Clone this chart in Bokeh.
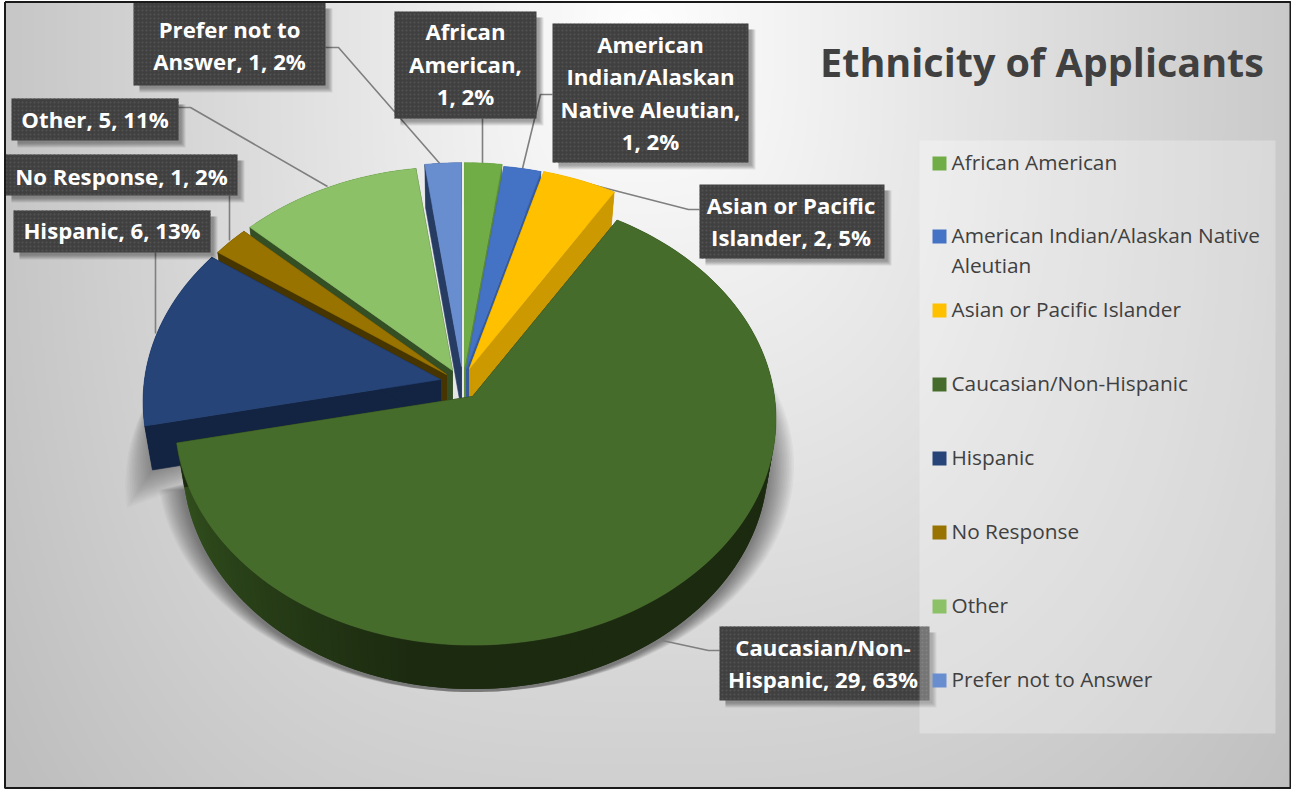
import math
import numpy as np
from bokeh.plotting import figure
from bokeh.models import Range1d
from bokeh.core.properties import value
from bokeh.embed import file_html
from bokeh.resources import INLINE

# ---- data ----
categories = ["African American", "American Indian/Alaskan Native Aleutian",
              "Asian or Pacific Islander", "Caucasian/Non-Hispanic", "Hispanic",
              "No Response", "Other", "Prefer not to Answer"]
counts = [1, 1, 2, 29, 6, 1, 5, 1]
percents = [2, 2, 5, 63, 13, 2, 11, 2]
title_text = "Ethnicity of Applicants"

# label line breaks of the data labels (name parts; count and percent are appended)
label_lines = [["African", "American,", "{c}, {p}%"],
               ["American", "Indian/Alaskan", "Native Aleutian,", "{c}, {p}%"],
               ["Asian or Pacific", "Islander, {c}, {p}%"],
               ["Caucasian/Non-", "Hispanic, {c}, {p}%"],
               ["Hispanic, {c}, {p}%"],
               ["No Response, {c}, {p}%"],
               ["Other, {c}, {p}%"],
               ["Prefer not to", "Answer, {c}, {p}%"]]
legend_lines = [["African American"], ["American Indian/Alaskan Native", "Aleutian"],
                ["Asian or Pacific Islander"], ["Caucasian/Non-Hispanic"], ["Hispanic"],
                ["No Response"], ["Other"], ["Prefer not to Answer"]]

# ---- styles ----
top_colors = ["#70AD47", "#4472C4", "#FFC000", "#466C2B", "#264478", "#997300", "#8CC168", "#698ED0"]
wall_colors = ["#5A8A39", "#365B9D", "#CC9A00", "#1C2B10", "#132442", "#463500", "#344F24", "#263C63"]

# ---- layout: 3-D pie projection ----
FR, FL, G, P = 302.0, 296.0, 224.0, 0.099
DEPTH, LEAN = 44.0, 0.026
apex = [(464, 366), (466, 368), (469, 368), (472, 396), (440, 379), (446, 374), (452, 370), (461, 366)]
draw_order = [7, 6, 5, 4, 0, 1, 2, 3]
boxes = [(394, 536, 11, 118), (552, 748, 23, 162), (699, 884, 184, 258), (719, 929, 626, 700),
         (13, 210, 210, 252), (5, 237, 154, 195), (11, 178, 98, 140), (133, 325, 2, 85)]
text_shift = [(0, 0), (0, 1), (-1, 1), (3.5, 1), (0, 0), (0, 2), (0, 1), (0, 2.5)]
leaders = [[(482, 118), (482, 164)], [(552, 94), (540, 94), (522, 168)],
           [(699, 209), (688, 209), (579, 181)], [(719, 650), (708, 650), (657, 639)],
           [(155, 252), (155, 333)], [(229, 195), (229, 240)],
           [(178, 107), (190, 107), (327, 186)], [(325, 47), (338, 47), (441, 165)]]
legend_y = [163, 236, 310, 384, 458, 532, 606, 680]

W, H = 1291, 789
p = figure(width=W, height=H, x_range=Range1d(0, W), y_range=Range1d(H, 0),
           output_backend="svg", toolbar_location=None, min_border=0, outline_line_color=None)
p.axis.visible = False
p.grid.visible = False
p.background_fill_color = "white"
p.border_fill_color = "white"

# background gradient
step = 2
xs = np.arange(4, 1291, step) + step / 2
ys = np.arange(2, 788, step) + step / 2
X, Y = np.meshgrid(xs, ys)
dx = np.where(X < 640, (640 - X) * 0.089, (X - 640) * 0.082)
drop = (dx ** 3 + (np.abs(Y - 40) * 0.0635) ** 3) ** (1 / 3)
g = np.clip(255 - drop, 190, 255).astype(np.uint32)
img = (255 << 24) | (g << 16) | (g << 8) | g
p.image_rgba(image=[img.astype(np.uint32)], x=4, y=2, dw=1287, dh=786)


def pt(i, theta):
    s, c = math.sin(theta), math.cos(theta)
    den = 1 + P * c
    fx = FR if s >= 0 else FL
    return apex[i][0] + fx * s / den, apex[i][1] - G * c / den


def down(i, q):
    return q[0] + LEAN * (apex[i][0] - q[0]), q[1] + DEPTH


total = sum(counts)
cum = np.cumsum([0] + counts) / total * 2 * math.pi
arcs = []
for i in range(len(counts)):
    n = max(6, int((cum[i + 1] - cum[i]) * 40))
    arcs.append([pt(i, t) for t in np.linspace(cum[i], cum[i + 1], n)])


def patch(points, color, alpha=1.0, lw=0.6):
    p.patch([q[0] for q in points], [q[1] for q in points], fill_color=color, fill_alpha=alpha,
            line_color=color if alpha == 1.0 else None, line_width=lw, line_alpha=alpha)


# soft shadow beside the pie
for k in range(16):
    grow = 1 + 0.0055 * (k + 1)
    for i in (3, 4):
        ox, oy = apex[i]
        bottom = [down(i, q) for q in arcs[i]]
        shift = 3 if i == 3 else 2 + k * 2.4
        shape = [(ox + (q[0] - ox) * grow, q[1] + shift) for q in bottom]
        patch(shape + [(ox, oy + 14)], "#000000", 0.03 if i == 3 else 0.022)

# leaders
for pts in leaders:
    p.line([q[0] for q in pts], [q[1] for q in pts], line_color="#7F7F7F", line_width=1.6)


def mix(a, b, t):
    ca = [int(a[j:j + 2], 16) for j in (1, 3, 5)]
    cb = [int(b[j:j + 2], 16) for j in (1, 3, 5)]
    return "#%02X%02X%02X" % tuple(int(round(u + (v - u) * t)) for u, v in zip(ca, cb))


# slices, back to front
for i in draw_order:
    a = arcs[i]
    ap = apex[i]
    apb = down(i, ap)
    # outer wall: quads overlap the next one so that no seams show
    for j in range(len(a) - 1):
        col = wall_colors[i]
        if i == 3:
            t = (cum[i] + (cum[i + 1] - cum[i]) * j / (len(a) - 1) - math.radians(190)) / math.radians(68)
            col = mix("#1C2B10", "#34531F", max(0, min(1, t)))
        e = a[min(j + 2, len(a) - 1)]
        patch([a[j], e, down(i, e), down(i, a[j])], col, lw=0)
    # radial walls
    patch([a[0], ap, apb, down(i, a[0])], wall_colors[i])
    patch([a[-1], ap, apb, down(i, a[-1])], wall_colors[i])
    # top
    patch([ap] + a, top_colors[i])

font = value("Open Sans")

# data label boxes
for i, (x0, x1, y0, y1) in enumerate(boxes):
    for k in range(5):
        d = 7 - k
        p.quad(left=[x0 + 6], right=[x1 + d], top=[y0 + 6], bottom=[y1 + d], fill_color="#000000",
               fill_alpha=0.08, line_color=None)
    p.quad(left=[x0], right=[x1], top=[y0], bottom=[y1], fill_color="#404040", line_color=None,
           hatch_pattern="dot", hatch_color="#525252", hatch_scale=4, hatch_alpha=1.0)

# legend panel
p.quad(left=[919], right=[1275], top=[140], bottom=[733], fill_color="#FFFFFF", fill_alpha=0.28, line_color=None)

# data label texts
for i, (x0, x1, y0, y1) in enumerate(boxes):
    lines = [s.format(c=counts[i], p=percents[i]) for s in label_lines[i]]
    cx = ((x0 + x1) / 2 if i != 3 else (x0 + 919) / 2) + text_shift[i][0]
    cy = (y0 + y1) / 2 + text_shift[i][1]
    lh = 32.5
    for n, line in enumerate(lines):
        p.text([cx], [cy + (n - (len(lines) - 1) / 2) * lh - 1], text=[line], text_align="center",
               text_baseline="middle", text_color="#FFFFFF", text_font=font, text_font_style="bold",
               text_font_size="22.2px")

# title
p.text([1041.5], [61], text=[title_text], text_align="center", text_baseline="middle", text_color="#404040",
       text_font=font, text_font_style="bold", text_font_size="39.5px")

# legend
for i, y in enumerate(legend_y):
    p.quad(left=[932], right=[946], top=[y - 7], bottom=[y + 7], fill_color=top_colors[i], line_color=None)
    for n, line in enumerate(legend_lines[i]):
        p.text([951], [y - 1.5 + n * 29.5], text=[line], text_align="left", text_baseline="middle",
               text_color="#404040", text_font=font, text_font_size="20.8px")

# frame
p.line([4.5, 4.5, 1290, 1290, 4.5], [1.5, 787.5, 787.5, 1.5, 1.5], line_color="#1A1A1A", line_width=2)

open("out.html", "w").write(file_html(p, INLINE))
